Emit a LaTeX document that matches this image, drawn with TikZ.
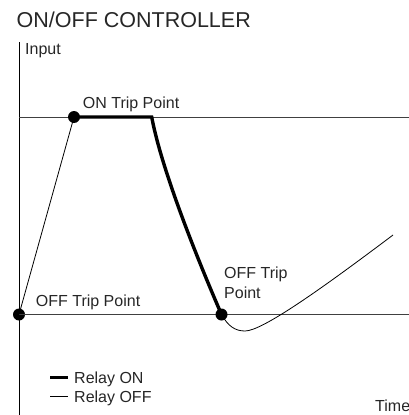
\documentclass[tikz,border=0pt]{standalone}
\usepackage{fontspec}
\setmainfont{Liberation Sans}
\usetikzlibrary{positioning}

\begin{document}
\begin{tikzpicture}[x=1pt, y=-1pt,
        every node/.style={inner sep=0pt, text=black!85},
        lbl/.style={anchor=base west, font=\fontsize{16}{20}\selectfont},
        trip/.style={circle, fill=black, minimum size=12pt},
        level/.style={line width=0.8pt, black!75},
        relayon/.style={line width=3.4pt, black},
        relayoff/.style={line width=0.8pt, black}
    ]
        \useasboundingbox (0,0) rectangle (409,415);

        % Titel und Achse
        \node[lbl, font=\fontsize{21.5}{25}\selectfont] (title) at (16.5,27.5) {ON/OFF CONTROLLER};
        \coordinate (axtop) at (19,42);
        \coordinate (axbot) at (19,415);
        \draw[level, black] (axtop) -- (axbot);
        \node[lbl] (input) at (25,54) {Input};
        \node[lbl] (time) at (375,411.5) {Time};

        % Schaltpunkte
        \coordinate (onleft) at (19,117);
        \coordinate (onright) at (409,117);
        \coordinate (offright) at (409,314.5);
        \draw[level] (onleft) -- (onright);
        \node[trip] (off1) at (19,314.5) {};
        \draw[level] (off1.center) -- (offright);
        \node[trip] (on1) at (74,117) {};
        \node[trip] (off2) at (221.5,314.5) {};
        \coordinate (onend) at (151.7,117);
        \coordinate (valley) at (245,331);
        \coordinate (rise) at (393,235);

        % Verlauf
        \draw[relayoff] (off1.center) -- (on1.center);
        \draw[relayon] (on1.center) -- (onend)
            .. controls (162,172) and (200,265) .. (off2.center);
        \draw[relayoff] (off2.center) .. controls (228,326) and (235,331) .. (valley)
            .. controls (262,331) and (320,290) .. (rise);

        \node[lbl] (ontxt) at (82.7,108.3) {ON Trip Point};
        \node[lbl] (offtxt) at (35.7,306.7) {OFF Trip Point};
        \node[lbl] (offtxt2) at (224,278.3) {OFF Trip};
        \node[lbl] (offtxt3) at (224,298.3) {Point};

        % Legende
        \node[lbl] (lgon) at (74,383.3) {Relay ON};
        \node[lbl] (lgoff) at (74,402.3) {Relay OFF};
        \coordinate (lgon1) at (50,377.7);
        \coordinate (lgon2) at (68,377.7);
        \coordinate (lgoff1) at (50,396.7);
        \coordinate (lgoff2) at (68,396.7);
        \draw[relayon, line width=3pt] (lgon1) -- (lgon2);
        \draw[relayoff] (lgoff1) -- (lgoff2);
    \end{tikzpicture}
\end{document}
